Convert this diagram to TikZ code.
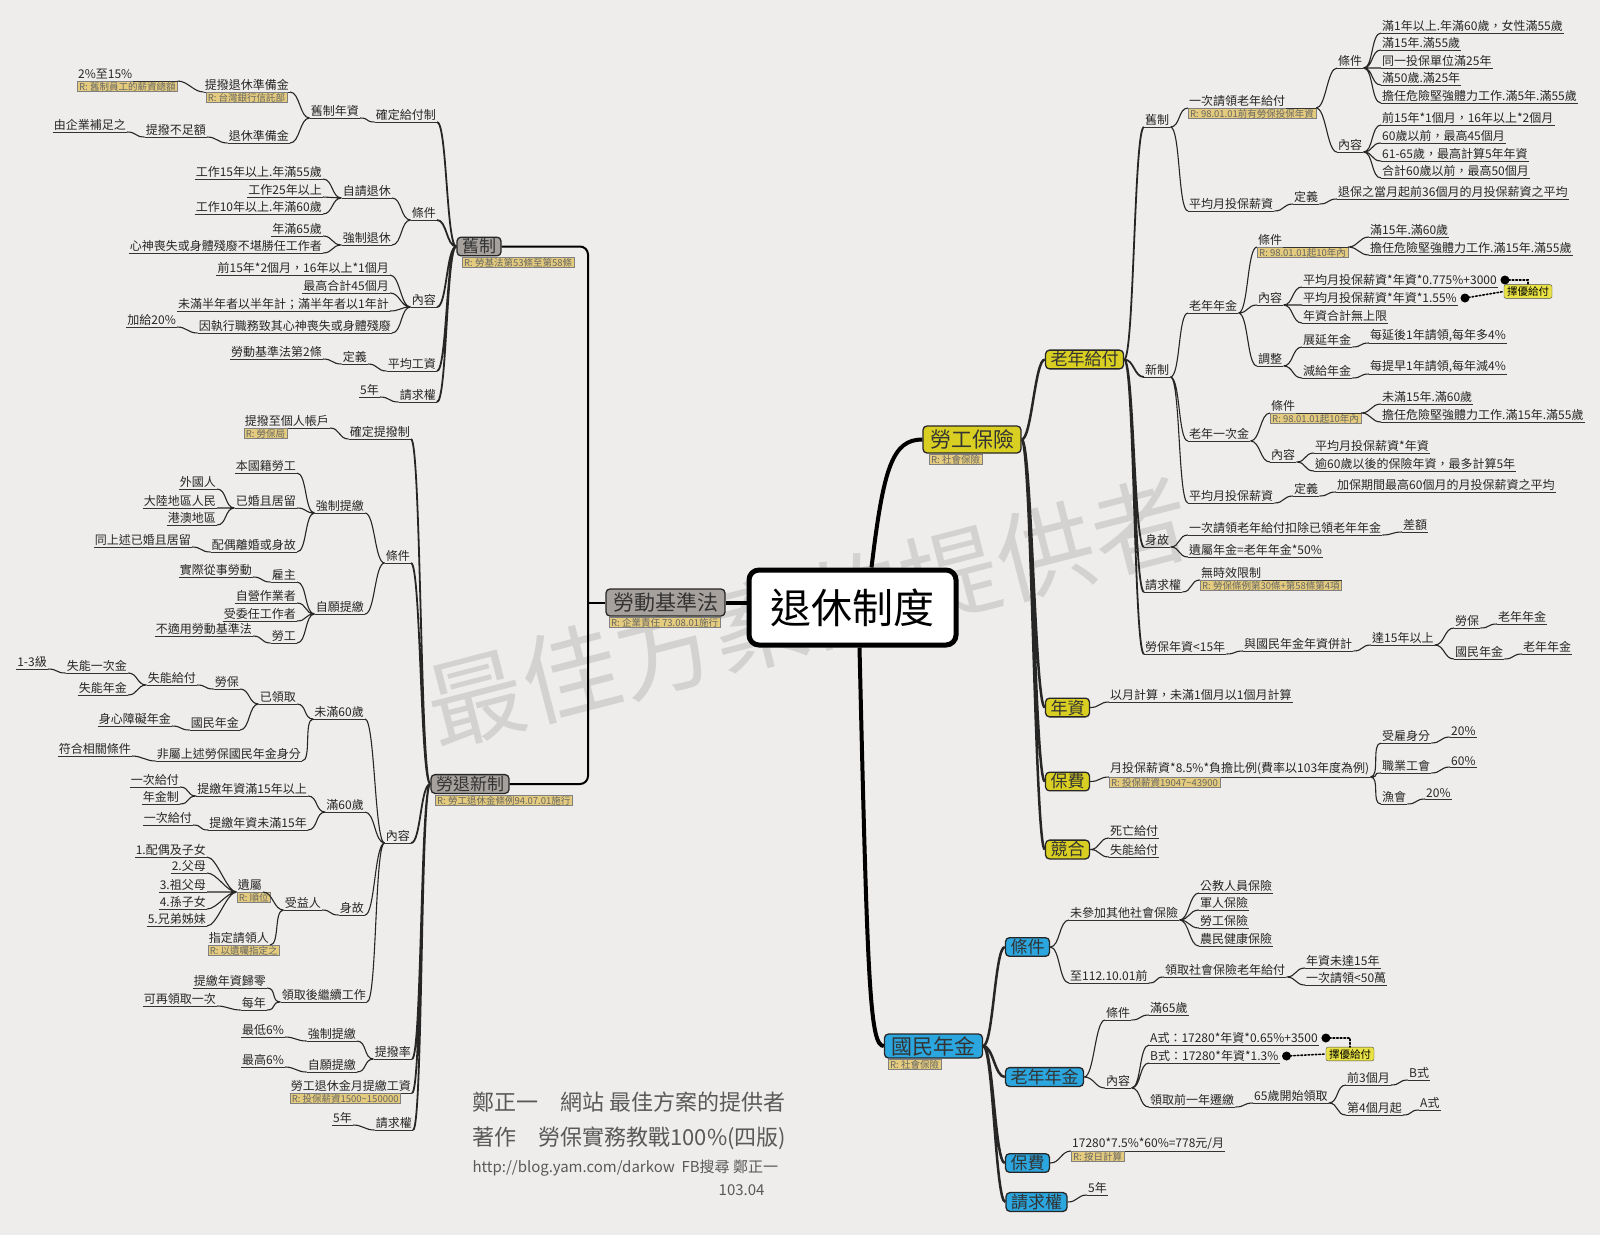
\documentclass[tikz,border=0pt]{standalone}
\usepackage{fontspec}
\setmainfont{Noto Sans CJK TC}
\usetikzlibrary{calc}

\definecolor{bgcol}{RGB}{239,237,235}
\definecolor{boxgray}{RGB}{166,161,157}
\definecolor{boxyel}{RGB}{217,207,34}
\definecolor{boxblue}{RGB}{43,166,222}
\definecolor{noteyel}{RGB}{228,203,125}
\definecolor{pickyel}{RGB}{232,226,70}
\definecolor{wmgray}{RGB}{212,210,208}

\begin{document}
\begin{tikzpicture}[x=1pt, y=-1pt, font=\fontsize{12}{13}\selectfont,
  uline/.style={draw=black!80, line width=0.8pt},
  lab/.style={inner xsep=1pt, inner ysep=1.5pt, text=black!85,
    append after command={(\tikzlastnode.south west) edge[uline] (\tikzlastnode.south east)}},
  ll/.style={lab, anchor=south east},
  rl/.style={lab, anchor=south west},
  note/.style={draw=black!50, fill=noteyel, text=black!60, font=\fontsize{9.5}{10}\selectfont,
    inner xsep=2pt, inner ysep=0.8pt, anchor=north west},
  gbox/.style={draw=black!85, fill=boxgray, text=black!80, line width=1.3pt, rounded corners=4pt,
    inner xsep=5pt, inner ysep=1.5pt, font=\fontsize{17}{17}\selectfont},
  ybox/.style={gbox, fill=boxyel},
  bbox/.style={gbox, fill=boxblue},
  bigbox/.style={minimum height=27pt, font=\fontsize{21}{21}\selectfont, inner xsep=7pt},
  pickbox/.style={draw=black!70, fill=pickyel, rounded corners=2pt, inner xsep=3pt, inner ysep=2pt,
    font=\fontsize{10.5}{11}\selectfont},
  rootbox/.style={draw=black, line width=5pt, fill=white, rounded corners=10pt,
    minimum width=207pt, minimum height=75pt, font=\fontsize{41}{41}\selectfont},
  br/.style={draw=black!85, line width=1.1pt},
  lb/.style={to path={(\tikztostart) .. controls +(-10,0) and +(10,0) .. (\tikztotarget)}},
  rb/.style={to path={(\tikztostart) .. controls +(10,0) and +(-10,0) .. (\tikztotarget)}},
  dots/.style={dotted, line width=1.6pt, line cap=round}]

\useasboundingbox (0,0) rectangle (1600,1235);
\fill[bgcol] (0,0) rectangle (1600,1235);

% watermark
\node[text=wmgray, rotate=14.5, font=\fontsize{98}{98}\selectfont] (wm) at (808,612) {最佳方案的提供者};

% root and first level
\node[rootbox] (root) at (852.5,607.5) {退休制度};
\node[gbox, bigbox] (lsl) at (665.5,602.5) {勞動基準法};
\node[note] (lsln) at (609,617) {R: 企業責任 73.08.01施行};
\node[ybox, bigbox] (lins) at (972,439.5) {勞工保險};
\node[note] (linsn) at (929,454) {R: 社會保險};
\node[bbox, bigbox, minimum height=24pt] (npen) at (933.5,1046) {國民年金};
\node[note] (npenn) at (888,1059) {R: 社會保險};

% 勞動基準法: 舊制 / 勞退新制
\node[gbox] (old) at (479,246.5) {舊制};
\node[note] (oldn) at (462,257) {R: 勞基法第53條至第58條};
\node[gbox] (new) at (470,784) {勞退新制};
\node[note] (newn) at (435,795) {R: 勞工退休金條例94.07.01施行};

% 舊制 subtree
\node[ll] (o1) at (437,122) {確定給付制};
\node[ll] (o11) at (360,118) {舊制年資};
\node[ll] (o111) at (290,92) {提撥退休準備金};
\node[note] (o111n) at ([xshift=2pt]o111.south west) {R: 台灣銀行信託部};
\node[lab, anchor=south west] (o1111) at (77,81) {2\%至15\%};
\node[note] (o1111n) at (o1111.south west) {R: 舊制員工的薪資總額};
\draw[uline] (o1111.south east) -- (o1111n.north east);
\node[ll] (o112) at (290,143) {退休準備金};
\node[ll] (o1121) at (207,137) {提撥不足額};
\node[ll] (o11211) at (127,132) {由企業補足之};
\node[ll] (o2) at (437,220) {條件};
\node[ll] (o21) at (392,198) {自請退休};
\node[ll] (o211) at (323,179) {工作15年以上.年滿55歲};
\node[ll] (o212) at (323,197) {工作25年以上};
\node[ll] (o213) at (323,214) {工作10年以上.年滿60歲};
\node[ll] (o22) at (392,245) {強制退休};
\node[ll] (o221) at (323,236) {年滿65歲};
\node[ll] (o222) at (323,253) {心神喪失或身體殘廢不堪勝任工作者};
\node[ll] (o3) at (437,307) {內容};
\node[ll] (o31) at (390,275) {前15年*2個月，16年以上*1個月};
\node[ll] (o32) at (390,293) {最高合計45個月};
\node[ll] (o33) at (390,311) {未滿半年者以半年計；滿半年者以1年計};
\node[ll] (o34) at (392,333) {因執行職務致其心神喪失或身體殘廢};
\node[ll] (o341) at (177,327) {加給20\%};
\node[ll] (o4) at (437,371) {平均工資};
\node[ll] (o41) at (368,364) {定義};
\node[ll] (o411) at (323,359) {勞動基準法第2條};
\node[ll] (o5) at (437,402) {請求權};
\node[ll] (o51) at (380,397) {5年};

% 勞退新制 subtree
\node[ll] (n1) at (411,439) {確定提撥制};
\node[ll] (n11) at (330,428) {提撥至個人帳戶};
\node[note] (n11n) at (n11.south west) {R: 勞保局};
\node[ll] (n2) at (411,563) {條件};
\node[ll] (n21) at (365,513) {強制提繳};
\node[ll] (n211) at (297,473) {本國籍勞工};
\node[ll] (n212) at (297,508) {已婚且居留};
\node[ll] (n2121) at (217,489) {外國人};
\node[ll] (n2122) at (217,508) {大陸地區人民};
\node[ll] (n2123) at (217,525) {港澳地區};
\node[ll] (n213) at (297,552) {配偶離婚或身故};
\node[ll] (n2131) at (192,547) {同上述已婚且居留};
\node[ll] (n22) at (365,614) {自願提繳};
\node[ll] (n221) at (297,582) {雇主};
\node[ll] (n2211) at (253,577) {實際從事勞動};
\node[ll] (n222) at (297,603) {自營作業者};
\node[ll] (n223) at (297,621) {受委任工作者};
\node[ll] (n224) at (297,643) {勞工};
\node[ll] (n2241) at (253,636) {不適用勞動基準法};
\node[ll] (n3) at (411,843) {內容};
\node[ll] (n31) at (365,719) {未滿60歲};
\node[ll] (n311) at (297,704) {已領取};
\node[ll] (n3111) at (240,689) {勞保};
\node[ll] (n31111) at (197,685) {失能給付};
\node[ll] (n311111) at (128,673) {失能一次金};
\node[ll] (n3111111) at (48,669) {1-3級};
\node[ll] (n311112) at (128,695) {失能年金};
\node[ll] (n3112) at (240,730) {國民年金};
\node[ll] (n31121) at (172,726) {身心障礙年金};
\node[ll] (n312) at (302,761) {非屬上述勞保國民年金身分};
\node[ll] (n3121) at (132,756) {符合相關條件};
\node[ll] (n32) at (365,812) {滿60歲};
\node[ll] (n321) at (308,796) {提繳年資滿15年以上};
\node[ll] (n3211) at (180,787) {一次給付};
\node[ll] (n3212) at (180,804) {年金制};
\node[ll] (n322) at (308,830) {提繳年資未滿15年};
\node[ll] (n3221) at (193,825) {一次給付};
\node[ll] (n33) at (365,915) {身故};
\node[ll] (n331) at (322,910) {受益人};
\node[ll] (n3311) at (263,892) {遺屬};
\node[note] (n3311n) at (n3311.south west) {R: 順位};
\node[ll] (n33111) at (207,857) {1.配偶及子女};
\node[ll] (n33112) at (207,873) {2.父母};
\node[ll] (n33113) at (207,892) {3.祖父母};
\node[ll] (n33114) at (207,909) {4.孫子女};
\node[ll] (n33115) at (207,926) {5.兄弟姊妹};
\node[ll] (n3312) at (270,945) {指定請領人};
\node[note] (n3312n) at (n3312.south west) {R: 以遺囑指定之};
\node[ll] (n34) at (367,1002) {領取後繼續工作};
\node[ll] (n341) at (267,988) {提繳年資歸零};
\node[ll] (n342) at (267,1010) {每年};
\node[ll] (n3421) at (217,1006) {可再領取一次};
\node[ll] (n4) at (412,1059) {提撥率};
\node[ll] (n41) at (357,1041) {強制提繳};
\node[ll] (n411) at (285,1037) {最低6\%};
\node[ll] (n42) at (357,1072) {自願提繳};
\node[ll] (n421) at (285,1067) {最高6\%};
\node[ll] (n5) at (412,1093) {勞工退休金月提繳工資};
\node[note] (n5n) at (n5.south west) {R: 投保薪資1500\textasciitilde150000};
\node[ll] (n6) at (413,1130) {請求權};
\node[ll] (n61) at (353,1125) {5年};

% 勞工保險 subtree
\node[ybox] (ob) at (1084.5,359.5) {老年給付};
\node[ybox] (sen) at (1067.5,707.5) {年資};
\node[ybox] (fee) at (1067.5,781.5) {保費};
\node[ybox] (cmp) at (1067.5,849.5) {競合};

\node[rl] (p1) at (1144,127) {舊制};
\node[rl] (p11) at (1188,108) {一次請領老年給付};
\node[note] (p11n) at (p11.south west) {R: 98.01.01前有勞保投保年資};
\draw[uline] (p11.south east) -- (p11n.north east);
\node[rl] (p111) at (1337,68) {條件};
\node[rl] (p1111) at (1381,33) {滿1年以上.年滿60歲，女性滿55歲};
\node[rl] (p1112) at (1381,50) {滿15年.滿55歲};
\node[rl] (p1113) at (1381,68) {同一投保單位滿25年};
\node[rl] (p1114) at (1381,85) {滿50歲.滿25年};
\node[rl] (p1115) at (1381,103) {擔任危險堅強體力工作.滿5年.滿55歲};
\node[rl] (p112) at (1337,152) {內容};
\node[rl] (p1121) at (1381,125) {前15年*1個月，16年以上*2個月};
\node[rl] (p1122) at (1381,143) {60歲以前，最高45個月};
\node[rl] (p1123) at (1381,161) {61-65歲，最高計算5年年資};
\node[rl] (p1124) at (1381,178) {合計60歲以前，最高50個月};
\node[rl] (p12) at (1188,211) {平均月投保薪資};
\node[rl] (p121) at (1293,204) {定義};
\node[rl] (p1211) at (1337,199) {退保之當月起前36個月的月投保薪資之平均};

\node[rl] (p2) at (1144,377) {新制};
\node[rl] (p21) at (1188,313) {老年年金};
\node[rl] (p211) at (1257,247) {條件};
\node[note] (p211n) at (p211.south west) {R: 98.01.01起10年內};
\draw[uline] (p211.south east) -- (p211n.north east);
\node[rl] (p2111) at (1369,237) {滿15年.滿60歲};
\node[rl] (p2112) at (1369,255) {擔任危險堅強體力工作.滿15年.滿55歲};
\node[rl] (p212) at (1257,305) {內容};
\node[rl] (p2121) at (1302,287) {平均月投保薪資*年資*0.775\%+3000};
\node[rl] (p2122) at (1302,305) {平均月投保薪資*年資*1.55\%};
\node[rl] (p2123) at (1302,323) {年資合計無上限};
\node[pickbox] (pk1) at (1528,291.5) {擇優給付};
\node[rl] (p213) at (1257,366) {調整};
\node[rl] (p2131) at (1302,347) {展延年金};
\node[rl] (p21311) at (1369,343) {每延後1年請領,每年多4\%};
\node[rl] (p2132) at (1302,378) {減給年金};
\node[rl] (p21321) at (1369,374) {每提早1年請領,每年減4\%};
\node[rl] (p22) at (1188,441) {老年一次金};
\node[rl] (p221) at (1270,413) {條件};
\node[note] (p221n) at (p221.south west) {R: 98.01.01起10年內};
\draw[uline] (p221.south east) -- (p221n.north east);
\node[rl] (p2211) at (1381,404) {未滿15年.滿60歲};
\node[rl] (p2212) at (1381,422) {擔任危險堅強體力工作.滿15年.滿55歲};
\node[rl] (p222) at (1270,462) {內容};
\node[rl] (p2221) at (1314,453) {平均月投保薪資*年資};
\node[rl] (p2222) at (1314,471) {逾60歲以後的保險年資，最多計算5年};
\node[rl] (p23) at (1188,503) {平均月投保薪資};
\node[rl] (p231) at (1293,496) {定義};
\node[rl] (p2311) at (1336,492) {加保期間最高60個月的月投保薪資之平均};

\node[rl] (p3) at (1144,547) {身故};
\node[rl] (p31) at (1188,535) {一次請領老年給付扣除已領老年年金};
\node[rl] (p311) at (1402,532) {差額};
\node[rl] (p32) at (1188,557) {遺屬年金=老年年金*50\%};
\node[rl] (p4) at (1144,592) {請求權};
\node[rl] (p41) at (1200,580) {無時效限制};
\node[note] (p41n) at (p41.south west) {R: 勞保條例第30條+第58條第4項};
\draw[uline] (p41.south east) -- (p41n.north east);
\node[rl] (p5) at (1144,654) {勞保年資<15年};
\node[rl] (p51) at (1243,651) {與國民年金年資併計};
\node[rl] (p511) at (1371,645) {達15年以上};
\node[rl] (p5111) at (1454,628) {勞保};
\node[rl] (p51111) at (1497,624) {老年年金};
\node[rl] (p5112) at (1454,659) {國民年金};
\node[rl] (p51121) at (1522,654) {老年年金};

\node[rl] (s1) at (1109,702) {以月計算，未滿1個月以1個月計算};
\node[rl] (f1) at (1109,777) {月投保薪資*8.5\%*負擔比例(費率以103年度為例)};
\node[note] (f1n) at (f1.south west) {R: 投保薪資19047\textasciitilde43900};
\node[rl] (f11) at (1381,743) {受雇身分};
\node[rl] (f111) at (1450,737) {20\%};
\node[rl] (f12) at (1381,773) {職業工會};
\node[rl] (f121) at (1450,767) {60\%};
\node[rl] (f13) at (1381,804) {漁會};
\node[rl] (f131) at (1425,799) {20\%};
\node[rl] (m1) at (1109,838) {死亡給付};
\node[rl] (m2) at (1109,857) {失能給付};

% 國民年金 subtree
\node[bbox] (q1) at (1027.5,947) {條件};
\node[bbox] (q2) at (1044.5,1077) {老年年金};
\node[bbox] (q3) at (1027.5,1163) {保費};
\node[bbox] (q4) at (1036.5,1202) {請求權};
\node[rl] (q11) at (1069,920) {未參加其他社會保險};
\node[rl] (q111) at (1199,893) {公教人員保險};
\node[rl] (q112) at (1199,910) {軍人保險};
\node[rl] (q113) at (1199,928) {勞工保險};
\node[rl] (q114) at (1199,946) {農民健康保險};
\node[rl] (q12) at (1069,983) {至112.10.01前};
\node[rl] (q121) at (1164,977) {領取社會保險老年給付};
\node[rl] (q1211) at (1305,968) {年資未達15年};
\node[rl] (q1212) at (1305,985) {一次請領<50萬};
\node[rl] (q21) at (1105,1020) {條件};
\node[rl] (q211) at (1149,1015) {滿65歲};
\node[rl] (q22) at (1105,1088) {內容};
\node[rl] (q221) at (1149,1045) {A式：17280*年資*0.65\%+3500};
\node[rl] (q222) at (1149,1063) {B式：17280*年資*1.3\%};
\node[pickbox] (pk2) at (1350,1054) {擇優給付};
\node[rl] (q223) at (1149,1107) {領取前一年遷繳};
\node[rl] (q2231) at (1253,1103) {65歲開始領取};
\node[rl] (q22311) at (1346,1085) {前3個月};
\node[rl] (q223111) at (1408,1080) {B式};
\node[rl] (q22312) at (1346,1115) {第4個月起};
\node[rl] (q223121) at (1419,1110) {A式};
\node[rl] (q31) at (1071,1151) {17280*7.5\%*60\%=778元/月};
\node[note] (q31n) at (q31.south west) {R: 按日計算};
\node[rl] (q41) at (1087,1195) {5年};

% author
\node[text=black!65, anchor=base west, font=\fontsize{22}{22}\selectfont] (au1) at (469,1110) {鄭正一　網站 最佳方案的提供者};
\node[text=black!65, anchor=base west, font=\fontsize{22}{22}\selectfont] (au2) at (469,1145) {著作　勞保實務教戰100\%(四版)};
\node[text=black!65, anchor=base west, font=\fontsize{15}{15}\selectfont] (au3) at (469,1172) {http://blog.yam.com/darkow\ \ FB搜尋 鄭正一};
\node[text=black!65, anchor=base east, font=\fontsize{15}{15}\selectfont] (au4) at (768,1195) {103.04};

% main branches
\draw[line width=4pt] (lsl.east) -- (lsl.east -| root.west);
\draw[line width=4pt] ([xshift=19pt]root.north) .. controls +(12,-100) and +(-30,0) .. (lins.west);
\draw[line width=4pt] ([xshift=7pt]root.south) .. controls +(8,340) and +(-14,0) .. (npen.west);

% 勞動基準法 bracket
\coordinate (lslj) at (588,602.5);
\draw[line width=2pt] (lsl.west) -- (lslj);
\draw[line width=2pt, rounded corners=8pt] (old.east) -| (lslj) |- (new.east);

% 舊制 connectors
\draw[br, line width=1.8pt, lb] (old.west) to (o1.south east) (old.west) to (o2.south east) (old.west) to (o3.south east) (old.west) to (o4.south east) (old.west) to (o5.south east);
\draw[br, lb] (o1.south west) to (o11.south east);
\draw[br, lb] (o11.south west) to (o111.south east) (o11.south west) to (o112.south east);
\draw[br, lb] (o111.south west) to (o1111n.north east);
\draw[br, lb] (o112.south west) to (o1121.south east);
\draw[br, lb] (o1121.south west) to (o11211.south east);
\draw[br, lb] (o2.south west) to (o21.south east) (o2.south west) to (o22.south east);
\draw[br, lb] (o21.south west) to (o211.south east) (o21.south west) to (o212.south east) (o21.south west) to (o213.south east);
\draw[br, lb] (o22.south west) to (o221.south east) (o22.south west) to (o222.south east);
\draw[br, lb] (o3.south west) to (o31.south east) (o3.south west) to (o32.south east) (o3.south west) to (o33.south east) (o3.south west) to (o34.south east);
\draw[br, lb] (o34.south west) to (o341.south east);
\draw[br, lb] (o4.south west) to (o41.south east);
\draw[br, lb] (o41.south west) to (o411.south east);
\draw[br, lb] (o5.south west) to (o51.south east);

% 勞退新制 connectors
\draw[br, line width=1.8pt, lb] (new.west) to (n1.south east) (new.west) to (n2.south east) (new.west) to (n3.south east) (new.west) to (n4.south east) (new.west) to (n5.south east) (new.west) to (n6.south east);
\draw[br, lb] (n1.south west) to (n11.south east);
\draw[br, lb] (n2.south west) to (n21.south east) (n2.south west) to (n22.south east);
\draw[br, lb] (n21.south west) to (n211.south east) (n21.south west) to (n212.south east) (n21.south west) to (n213.south east);
\draw[br, lb] (n212.south west) to (n2121.south east) (n212.south west) to (n2122.south east) (n212.south west) to (n2123.south east);
\draw[br, lb] (n213.south west) to (n2131.south east);
\draw[br, lb] (n22.south west) to (n221.south east) (n22.south west) to (n222.south east) (n22.south west) to (n223.south east) (n22.south west) to (n224.south east);
\draw[br, lb] (n221.south west) to (n2211.south east);
\draw[br, lb] (n224.south west) to (n2241.south east);
\draw[br, lb] (n3.south west) to (n31.south east) (n3.south west) to (n32.south east) (n3.south west) to (n33.south east) (n3.south west) to (n34.south east);
\draw[br, lb] (n31.south west) to (n311.south east) (n31.south west) to (n312.south east);
\draw[br, lb] (n311.south west) to (n3111.south east) (n311.south west) to (n3112.south east);
\draw[br, lb] (n3111.south west) to (n31111.south east);
\draw[br, lb] (n31111.south west) to (n311111.south east) (n31111.south west) to (n311112.south east);
\draw[br, lb] (n311111.south west) to (n3111111.south east);
\draw[br, lb] (n3112.south west) to (n31121.south east);
\draw[br, lb] (n312.south west) to (n3121.south east);
\draw[br, lb] (n32.south west) to (n321.south east) (n32.south west) to (n322.south east);
\draw[br, lb] (n321.south west) to (n3211.south east) (n321.south west) to (n3212.south east);
\draw[br, lb] (n322.south west) to (n3221.south east);
\draw[br, lb] (n33.south west) to (n331.south east);
\draw[br, lb] (n331.south west) to (n3311.south east) (n331.south west) to (n3312.south east);
\draw[br, lb] (n3311.south west) to (n33111.south east) (n3311.south west) to (n33112.south east) (n3311.south west) to (n33113.south east) (n3311.south west) to (n33114.south east) (n3311.south west) to (n33115.south east);
\draw[br, lb] (n34.south west) to (n341.south east) (n34.south west) to (n342.south east);
\draw[br, lb] (n342.south west) to (n3421.south east);
\draw[br, lb] (n4.south west) to (n41.south east) (n4.south west) to (n42.south east);
\draw[br, lb] (n41.south west) to (n411.south east);
\draw[br, lb] (n42.south west) to (n421.south east);
\draw[br, lb] (n6.south west) to (n61.south east);

% 勞工保險 connectors
\draw[br, line width=2.5pt, rb] (lins.east) to (ob.west) (lins.east) to (sen.west) (lins.east) to (fee.west) (lins.east) to (cmp.west);
\draw[br, line width=1.8pt, rb] (ob.east) to (p1.south west) (ob.east) to (p2.south west) (ob.east) to (p3.south west) (ob.east) to (p4.south west) (ob.east) to (p5.south west);
\draw[br, rb] (p1.south east) to (p11.south west) (p1.south east) to (p12.south west);
\draw[br, rb] (p11n.north east) to (p111.south west) (p11n.north east) to (p112.south west);
\draw[br, rb] (p111.south east) to (p1111.south west) (p111.south east) to (p1112.south west) (p111.south east) to (p1113.south west) (p111.south east) to (p1114.south west) (p111.south east) to (p1115.south west);
\draw[br, rb] (p112.south east) to (p1121.south west) (p112.south east) to (p1122.south west) (p112.south east) to (p1123.south west) (p112.south east) to (p1124.south west);
\draw[br, rb] (p12.south east) to (p121.south west);
\draw[br, rb] (p121.south east) to (p1211.south west);
\draw[br, rb] (p2.south east) to (p21.south west) (p2.south east) to (p22.south west) (p2.south east) to (p23.south west);
\draw[br, rb] (p21.south east) to (p211.south west) (p21.south east) to (p212.south west) (p21.south east) to (p213.south west);
\draw[br, rb] (p211n.north east) to (p2111.south west) (p211n.north east) to (p2112.south west);
\draw[br, rb] (p212.south east) to (p2121.south west) (p212.south east) to (p2122.south west) (p212.south east) to (p2123.south west);
\draw[br, rb] (p213.south east) to (p2131.south west) (p213.south east) to (p2132.south west);
\draw[br, rb] (p2131.south east) to (p21311.south west);
\draw[br, rb] (p2132.south east) to (p21321.south west);
\draw[br, rb] (p22.south east) to (p221.south west) (p22.south east) to (p222.south west);
\draw[br, rb] (p221n.north east) to (p2211.south west) (p221n.north east) to (p2212.south west);
\draw[br, rb] (p222.south east) to (p2221.south west) (p222.south east) to (p2222.south west);
\draw[br, rb] (p23.south east) to (p231.south west);
\draw[br, rb] (p231.south east) to (p2311.south west);
\draw[br, rb] (p3.south east) to (p31.south west) (p3.south east) to (p32.south west);
\draw[br, rb] (p31.south east) to (p311.south west);
\draw[br, rb] (p4.south east) to (p41.south west);
\draw[br, rb] (p5.south east) to (p51.south west);
\draw[br, rb] (p51.south east) to (p511.south west);
\draw[br, rb] (p511.south east) to (p5111.south west) (p511.south east) to (p5112.south west);
\draw[br, rb] (p5111.south east) to (p51111.south west);
\draw[br, rb] (p5112.south east) to (p51121.south west);
\draw[br, rb] (sen.east) to (s1.south west);
\draw[br, rb] (fee.east) to (f1.south west);
\draw[br, rb] (f1.south east) to (f11.south west) (f1.south east) to (f12.south west) (f1.south east) to (f13.south west);
\draw[br, rb] (f11.south east) to (f111.south west);
\draw[br, rb] (f12.south east) to (f121.south west);
\draw[br, rb] (f13.south east) to (f131.south west);
\draw[br, rb] (cmp.east) to (m1.south west) (cmp.east) to (m2.south west);

% 擇優給付 (勞保)
\coordinate (d1) at ([xshift=7pt, yshift=7pt]p2121.south east);
\coordinate (d2) at ([xshift=7pt, yshift=7pt]p2122.south east);
\fill (d1) circle (4.5pt);
\fill (d2) circle (4.5pt);
\draw[dots] (d1) -| (pk1.north);
\draw[dots] (d2) -- (pk1.west);

% 國民年金 connectors
\draw[br, line width=2.5pt, rb] (npen.east) to (q1.west) (npen.east) to (q2.west) (npen.east) to (q3.west) (npen.east) to (q4.west);
\draw[br, rb] (q1.east) to (q11.south west) (q1.east) to (q12.south west);
\draw[br, rb] (q11.south east) to (q111.south west) (q11.south east) to (q112.south west) (q11.south east) to (q113.south west) (q11.south east) to (q114.south west);
\draw[br, rb] (q12.south east) to (q121.south west);
\draw[br, rb] (q121.south east) to (q1211.south west) (q121.south east) to (q1212.south west);
\draw[br, rb] (q2.east) to (q21.south west) (q2.east) to (q22.south west);
\draw[br, rb] (q21.south east) to (q211.south west);
\draw[br, rb] (q22.south east) to (q221.south west) (q22.south east) to (q222.south west) (q22.south east) to (q223.south west);
\draw[br, rb] (q223.south east) to (q2231.south west);
\draw[br, rb] (q2231.south east) to (q22311.south west) (q2231.south east) to (q22312.south west);
\draw[br, rb] (q22311.south east) to (q223111.south west);
\draw[br, rb] (q22312.south east) to (q223121.south west);
\draw[br, rb] (q3.east) to (q31.south west);
\draw[br, rb] (q4.east) to (q41.south west);

% 擇優給付 (國保)
\coordinate (d3) at ([xshift=7pt, yshift=7pt]q221.south east);
\coordinate (d4) at ([xshift=7pt, yshift=7pt]q222.south east);
\fill (d3) circle (4.5pt);
\fill (d4) circle (4.5pt);
\draw[dots] (d3) -| (pk2.north);
\draw[dots] (d4) -- (pk2.west);

\end{tikzpicture}
\end{document}
